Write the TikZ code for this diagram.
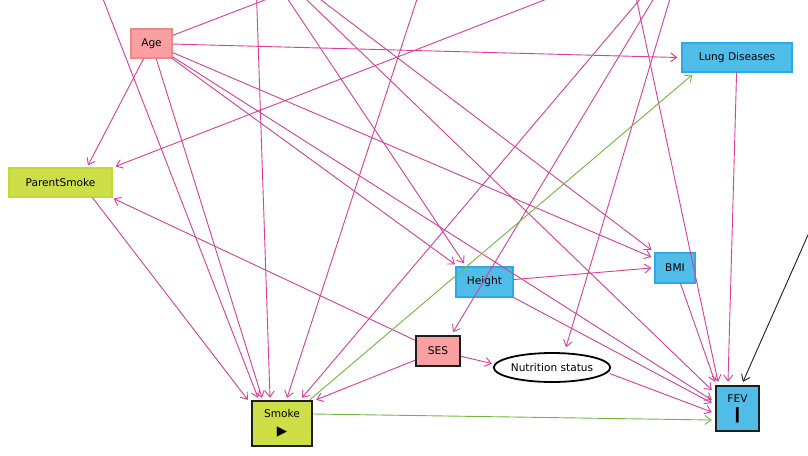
\documentclass[tikz,border=0pt]{standalone}
\usepackage{fontspec}
\setmainfont{DejaVu Sans}
\usetikzlibrary{arrows.meta,shapes.geometric}
\definecolor{epink}{RGB}{218,62,150}
\definecolor{egreen}{RGB}{112,184,64}
\definecolor{redfill}{RGB}{250,160,160}
\definecolor{redline}{RGB}{240,135,135}
\definecolor{ygfill}{RGB}{205,222,70}
\definecolor{ygline}{RGB}{190,218,60}
\definecolor{bluefill}{RGB}{80,188,232}
\definecolor{blueline}{RGB}{40,170,235}
\definecolor{darkline}{RGB}{30,30,30}
\begin{document}
\begin{tikzpicture}[x=1pt,y=-1pt,
  lbl/.style={font=\fontsize{10.6}{17}\selectfont, inner sep=0pt, align=center},
  redbox/.style={lbl, rectangle, fill=redfill, draw=redline, line width=1.3pt},
  ygbox/.style={lbl, rectangle, fill=ygfill, draw=ygline, line width=1.3pt},
  bluebox/.style={lbl, rectangle, fill=bluefill, draw=blueline, line width=1.3pt},
  pe/.style={draw=epink, line width=0.9pt, -{Straight Barb[length=6pt,width=9pt]}},
  ge/.style={draw=egreen, line width=0.9pt, -{Straight Barb[length=6pt,width=9pt]}},
  be/.style={draw=darkline, line width=0.9pt, -{Straight Barb[length=6pt,width=9pt]}}]
\useasboundingbox (0,0) rectangle (808,455);
\fill[white] (0,0) rectangle (808,455);
\clip (0,0) rectangle (808,455);

% off-canvas ends
\coordinate (U1) at (255,-50);
\coordinate (U2) at (686,-55);
\coordinate (U3) at (84,-50);
\coordinate (U4) at (433,-50);
\coordinate (U5) at (626,-50);
\coordinate (U6) at (395,-50);
\coordinate (U7) at (850,140);

% nodes
\node[redbox, minimum width=41, minimum height=29] (Age) at (151.5,43.5) {Age};
\node[ygbox, minimum width=103, minimum height=29] (PS) at (60.5,182.5) {ParentSmoke};
\node[bluebox, minimum width=110, minimum height=29] (Lung) at (737,57.5) {Lung Diseases};
\node[bluebox, minimum width=57, minimum height=30] (Height) at (484.5,282) {Height};
\node[bluebox, minimum width=40, minimum height=30] (BMI) at (675,268) {BMI};
\node[redbox, draw=darkline, line width=1.8pt, minimum width=44, minimum height=30] (SES) at (438,351) {SES};
\node[lbl, ellipse, draw=black, fill=white, line width=1.8pt, minimum width=112, minimum height=29] (Nutr) at (552,367.5) {Nutrition status};
\node[ygbox, draw=darkline, line width=2.4pt, minimum width=60, minimum height=45] (Smoke) at (282,423.5) {Smoke\\[1pt]{\fontsize{13.5}{14}\selectfont ▶}};
\node[bluebox, draw=darkline, line width=2.4pt, minimum width=43, minimum height=45] (FEV) at (737.5,408.5) {FEV\\[1pt]\scalebox{0.7}[1.9]{▮}};

% edges
\draw[pe] (Age) -- ([xshift=27.5pt,yshift=2pt]PS.north);
\draw[pe] (Age) -- ([xshift=-20pt,yshift=2pt]Smoke.north);
\draw[pe] (Age) -- ([xshift=-4pt]Lung.west);
\draw[pe] (Age) -- ([xshift=-3pt,yshift=11pt]BMI.west);
\draw[pe] (Age) -- ([xshift=-29.5pt,yshift=2pt]Height.north);
\draw[pe] (Age) -- ([xshift=-3pt,yshift=8.5pt]FEV.west);
\draw[pe] (Age) -- (U6);
\draw[pe] ([xshift=32pt]PS.south) -- ([xshift=-3pt]Smoke.north west);
\draw[pe] (U2) -- ([xshift=3pt,yshift=1pt]PS.north east);
\draw[pe] (SES) -- ([xshift=1pt,yshift=-1pt]PS.south east);
\draw[pe] (SES) -- ([xshift=3pt]Smoke.north east);
\draw[pe] (SES) -- ([xshift=-1pt,yshift=4pt]Nutr.west);
\draw[pe] (U2) -- ([xshift=15pt,yshift=3pt]SES.north);
\draw[pe] (U2) -- ([xshift=14pt,yshift=5pt]Nutr.north);
\draw[pe] (U2) -- ([xshift=20pt,yshift=2pt]Smoke.north);
\draw[pe] (U3) -- ([xshift=-24pt,yshift=2pt]Smoke.north);
\draw[pe] (U1) -- ([xshift=-12pt,yshift=2pt]Smoke.north);
\draw[pe] (U4) -- ([xshift=5pt,yshift=2pt]Smoke.north);
\draw[pe] (U1) -- ([xshift=-20.5pt,yshift=3pt]Height.north);
\draw[pe] (U1) -- ([xshift=-3pt,yshift=18.5pt]FEV.west);
\draw[pe] (U1) -- ([xshift=-3pt,yshift=18pt]BMI.west);
\draw[pe] (U5) -- ([xshift=-19.5pt,yshift=3pt]FEV.north);
\draw[pe] (Height) -- ([xshift=-3pt]BMI.west);
\draw[pe] (Height) -- ([xshift=-3pt,yshift=5.5pt]FEV.west);
\draw[pe] (BMI) -- ([xshift=-22.5pt,yshift=3pt]FEV.north);
\draw[pe] (Lung) -- ([xshift=-9.5pt,yshift=3pt]FEV.north);
\draw[pe] ([xshift=-1.5pt,yshift=-6pt]Nutr.east) -- ([xshift=-3pt,yshift=-3.5pt]FEV.west);
\draw[ge] (Smoke) -- ([xshift=11pt,yshift=-2pt]Lung.south west);
\draw[ge] ([yshift=9.5pt]Smoke.east) -- ([xshift=-3pt,yshift=-11.5pt]FEV.west);
\draw[be] (U7) -- ([xshift=5.5pt,yshift=3pt]FEV.north);
\end{tikzpicture}
\end{document}
